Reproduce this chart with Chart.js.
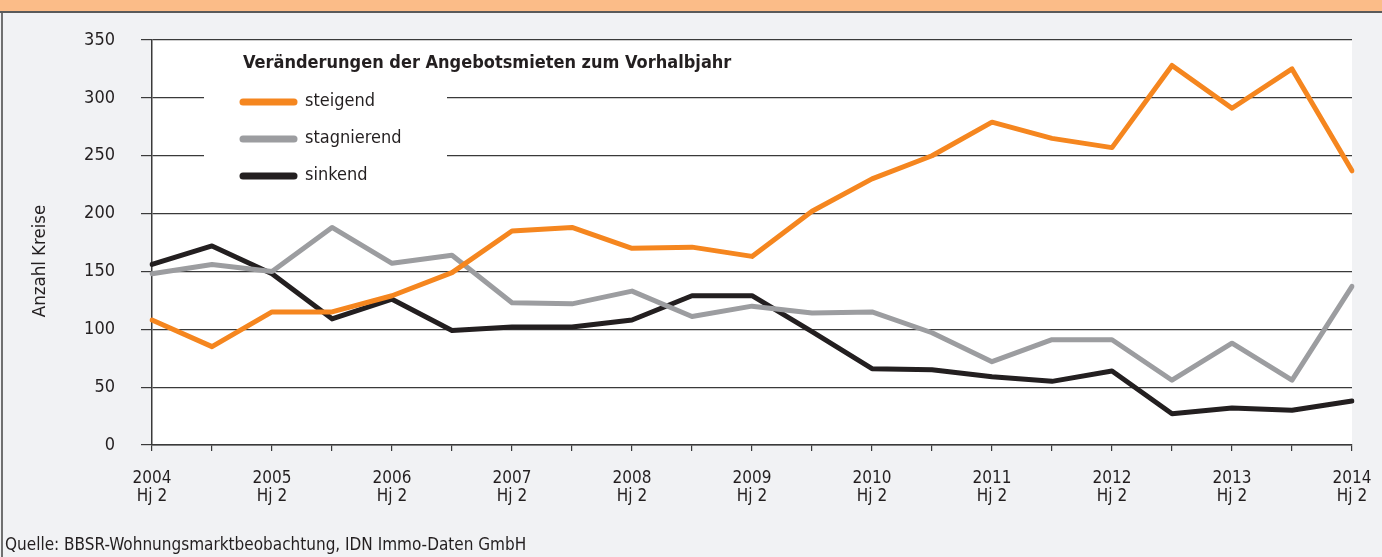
<!DOCTYPE html>
<html>
<head>
<meta charset="utf-8">
<script src="https://cdn.jsdelivr.net/npm/chart.js@4"></script>
<style>
  body { margin: 0; width: 1382px; height: 557px; overflow: hidden; position: relative; background: #f1f2f4;
         font-family: 'Liberation Sans Narrow', 'DejaVu Sans Condensed', sans-serif; color: #231f20; }
  #head { position: absolute; left: 0; top: 0; width: 1382px; height: 11px; background: #fbbc88; border-bottom: 2px solid #5a5a5a; }
  #frame { position: absolute; left: 1px; top: 0; width: 1380px; height: 557px; border-left: 2px solid #707070; }
  canvas { position: absolute; left: 0; top: 0; }
  #src { position: absolute; left: 5px; top: 534px; font-size: 17px; }
</style>
</head>
<body>
<div id="frame"></div>
<div id="head"></div>
<canvas id="c" width="1382" height="557"></canvas>
<div id="src">Quelle: BBSR-Wohnungsmarktbeobachtung, IDN Immo-Daten GmbH</div>
<script>
const categories = ['2004 Hj 2', '2005 Hj 1', '2005 Hj 2', '2006 Hj 1', '2006 Hj 2', '2007 Hj 1', '2007 Hj 2',
  '2008 Hj 1', '2008 Hj 2', '2009 Hj 1', '2009 Hj 2', '2010 Hj 1', '2010 Hj 2', '2011 Hj 1', '2011 Hj 2',
  '2012 Hj 1', '2012 Hj 2', '2013 Hj 1', '2013 Hj 2', '2014 Hj 1', '2014 Hj 2'];
const steigend = [108, 85, 115, 115, 129, 149, 185, 188, 170, 171, 163, 202, 230, 250, 279, 265, 257, 328, 291, 325, 237];
const stagnierend = [148, 156, 150, 188, 157, 164, 123, 122, 133, 111, 120, 114, 115, 97, 72, 91, 91, 56, 88, 56, 137];
const sinkend = [156, 172, 148, 109, 126, 99, 102, 102, 108, 129, 129, 98, 66, 65, 59, 55, 64, 27, 32, 30, 38];
const yTicks = [0, 50, 100, 150, 200, 250, 300, 350];
const legendTitle = 'Veränderungen der Angebotsmieten zum Vorhalbjahr';
const yTitle = 'Anzahl Kreise';

const FONT = "'Liberation Sans Narrow', 'DejaVu Sans Condensed', sans-serif";
const INK = '#231f20';
const GRID = '#3a3a3a';
const colors = { steigend: '#f5861f', stagnierend: '#9c9da0', sinkend: '#231f20' };

// white plot background, legend box and rotated axis title
const decor = {
  id: 'decor',
  beforeDraw(chart) {
    const { ctx, chartArea: a } = chart;
    ctx.save();
    ctx.fillStyle = '#fff';
    ctx.fillRect(a.left, a.top, a.right - a.left, a.bottom - a.top);
    ctx.translate(40, 261);
    ctx.rotate(-Math.PI / 2);
    ctx.fillStyle = INK;
    ctx.font = '18.5px ' + FONT;
    ctx.textAlign = 'center';
    ctx.textBaseline = 'middle';
    ctx.fillText(yTitle, 0, 0);
    ctx.restore();
  },
  beforeDatasetsDraw(chart) {
    const { ctx } = chart;
    ctx.save();
    ctx.fillStyle = '#fff';
    ctx.fillRect(204, 80, 243, 115);
    ctx.fillStyle = INK;
    ctx.font = 'bold 18px ' + FONT;
    ctx.textBaseline = 'middle';
    ctx.fillText(legendTitle, 243, 63);
    ctx.font = '18px ' + FONT;
    chart.data.datasets.forEach((ds, i) => {
      const y = 102 + i * 37;
      ctx.strokeStyle = ds.borderColor;
      ctx.lineWidth = 7;
      ctx.lineCap = 'round';
      ctx.beginPath();
      ctx.moveTo(243, y);
      ctx.lineTo(294, y);
      ctx.stroke();
      ctx.fillStyle = INK;
      ctx.fillText(ds.label, 305, y - 1);
    });
    ctx.restore();
  }
};

const line = (label, data) => ({
  label, data, borderColor: colors[label], borderWidth: 5, pointRadius: 0, tension: 0,
  borderJoinStyle: 'round', borderCapStyle: 'round', fill: false
});

new Chart(document.getElementById('c'), {
  type: 'line',
  data: {
    labels: categories,
    datasets: [line('steigend', steigend), line('stagnierend', stagnierend), line('sinkend', sinkend)]
  },
  options: {
    responsive: false,
    animation: false,
    layout: { padding: { top: 40, right: 30, bottom: 47, left: 0 } },
    plugins: { legend: { display: false }, tooltip: { enabled: false } },
    scales: {
      x: {
        grid: { drawOnChartArea: false, tickLength: 6, color: GRID, lineWidth: 1.2 },
        border: { color: GRID, width: 1.5 },
        ticks: {
          autoSkip: false, maxRotation: 0, padding: 19, color: INK,
          font: { family: FONT, size: 17, lineHeight: 1.06 },
          callback: (v, i) => i % 2 === 0 ? [categories[i].slice(0, 4), 'Hj 2'] : ''
        },
        afterFit: s => { s.height = 65; s.paddingLeft = 0; s.paddingRight = 0; }
      },
      y: {
        min: 0, max: 350,
        afterBuildTicks: s => { s.ticks = yTicks.map(v => ({ value: v })); },
        grid: { color: GRID, tickLength: 11, lineWidth: 1.2 },
        border: { color: GRID, width: 1.5 },
        ticks: { padding: 26, color: INK, font: { family: FONT, size: 18 } },
        afterFit: s => { s.width = 152; }
      }
    }
  },
  plugins: [decor]
});
</script>
</body>
</html>
